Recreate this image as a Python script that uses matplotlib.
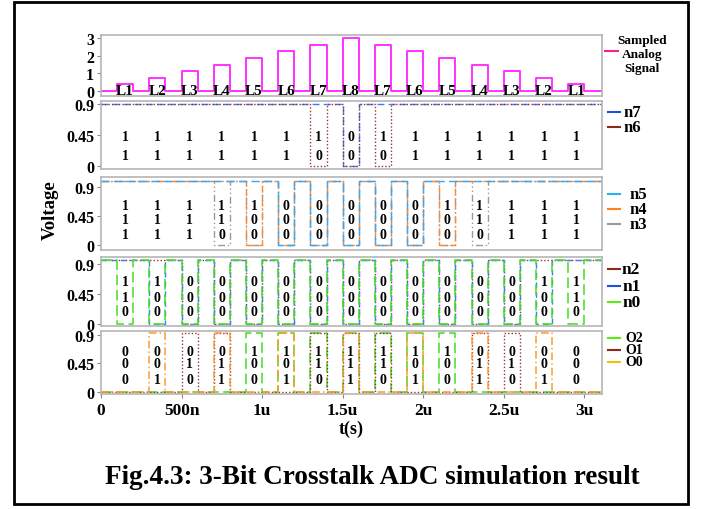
import matplotlib
matplotlib.use('Agg')
import matplotlib.pyplot as plt
from matplotlib.lines import Line2D
from matplotlib.patches import Rectangle

plt.rcParams['font.family'] = ['Liberation Serif', 'DejaVu Serif']
plt.rcParams['font.weight'] = 'bold'

# timing of the sampled pulses (in us)
pulse_start = [0.1, 0.3, 0.5, 0.7, 0.9, 1.1, 1.3, 1.5, 1.7, 1.9, 2.1, 2.3, 2.5, 2.7, 2.9]
pulse_width = 0.1
t_end = 3.11

level_names = ['L1', 'L2', 'L3', 'L4', 'L5', 'L6', 'L7', 'L8',
               'L7', 'L6', 'L5', 'L4', 'L3', 'L2', 'L1']
analog = [0.375, 0.75, 1.125, 1.5, 1.875, 2.25, 2.625, 3.0,
          2.625, 2.25, 1.875, 1.5, 1.125, 0.75, 0.375]

# comparator outputs during each pulse (thermometer code)
n7 = [1, 1, 1, 1, 1, 1, 1, 0, 1, 1, 1, 1, 1, 1, 1]
n6 = [1, 1, 1, 1, 1, 1, 0, 0, 0, 1, 1, 1, 1, 1, 1]
n5 = [1, 1, 1, 1, 1, 0, 0, 0, 0, 0, 1, 1, 1, 1, 1]
n4 = [1, 1, 1, 1, 0, 0, 0, 0, 0, 0, 0, 1, 1, 1, 1]
n3 = [1, 1, 1, 0, 0, 0, 0, 0, 0, 0, 0, 0, 1, 1, 1]
n2 = [1, 1, 0, 0, 0, 0, 0, 0, 0, 0, 0, 0, 0, 1, 1]
n1 = [1, 0, 0, 0, 0, 0, 0, 0, 0, 0, 0, 0, 0, 0, 1]
n0 = [0, 0, 0, 0, 0, 0, 0, 0, 0, 0, 0, 0, 0, 0, 0]
# encoder outputs
O2 = [0, 0, 0, 0, 1, 1, 1, 1, 1, 1, 1, 0, 0, 0, 0]
O1 = [0, 0, 1, 1, 0, 0, 1, 1, 1, 0, 0, 1, 1, 0, 0]
O0 = [0, 1, 0, 1, 0, 1, 0, 1, 0, 1, 0, 1, 0, 1, 0]

# high level of each digital panel (V)
vdd = [0.9, 1.0, 0.96, 0.93]

xtick_vals = [0, 0.5, 1, 1.5, 2, 2.5, 3]
xtick_labels = ['0', '500n', '1u', '1.5u', '2u', '2.5u', '3u']

W, H = 701, 510


def wave(vals, hi, rest):
    t = [0]
    y = [rest]
    for s, v in zip(pulse_start, vals):
        t += [s, s, s + pulse_width, s + pulse_width]
        y += [rest, v * hi, v * hi, rest]
    t.append(t_end)
    y.append(rest)
    return t, y


def panel(top, bottom, ylim, yticks, yticklabels):
    ax = fig.add_axes([101 / W, 1 - bottom / H, 501 / W, (bottom - top) / H])
    ax.set_xlim(0, t_end)
    ax.set_ylim(*ylim)
    for s in ax.spines.values():
        s.set_color('#b5b5b5')
        s.set_linewidth(1.2)
    ax.set_yticks(yticks)
    ax.set_yticklabels(yticklabels, fontsize=11.5, fontweight='bold')
    ax.tick_params(axis='y', color='#888888', length=3, width=0.8, pad=2)
    ax.set_xticks([])
    return ax


def bits(ax, rows, ys):
    for row, yy in zip(rows, ys):
        for s, b in zip(pulse_start, row):
            ax.text(s + pulse_width / 2, yy, str(b), ha='center', va='center',
                    fontsize=10, fontweight='bold')


def legend_entry(x0, y, color, label, tx, fs):
    fig.add_artist(Line2D([x0 / W, (x0 + 12) / W], [1 - y / H, 1 - y / H],
                          color=color, lw=1.5, transform=fig.transFigure))
    fig.text(tx / W, 1 - y / H, label, ha='left', va='center',
             fontsize=fs, fontweight='bold')


fig = plt.figure(figsize=(W / 100, H / 100), dpi=100)

# outer frame
fig.add_artist(Rectangle((14 / W, 5 / H), 674 / W, 502 / H, fill=False,
                         edgecolor='black', lw=2, transform=fig.transFigure))

# panel 1: sampled analog signal
ax1 = panel(36, 97, (-0.28, 3.17), [0, 1, 2, 3], ['0', '1', '2', '3'])
t, y = wave(analog, 1, 0)
ax1.plot(t, y, color='#ff33ff', lw=1.4)
for s, name in zip(pulse_start, level_names):
    ax1.text(s + pulse_width / 2, 0.02, name, ha='center', va='center',
             fontsize=11, fontweight='bold')

# panel 2: n7, n6
ax2 = panel(102, 170, (-0.044, 0.944), [0, 0.45, 0.9], ['0', '0.45', '0.9'])
t, y = wave(n7, vdd[0], vdd[0])
ax2.plot(t, y, color='#3d7dff', lw=1.0, ls=(0, (5, 3)))
t, y = wave(n6, vdd[0], vdd[0])
ax2.plot(t, y, color='#a03030', lw=1.0, ls=(0, (1, 1.5)))
bits(ax2, [n7, n6], [0.435, 0.145])

# panel 3: n5, n4, n3
ax3 = panel(178, 251, (-0.078, 1.055), [0, 0.45, 0.9], ['0', '0.45', '0.9'])
t, y = wave(n3, vdd[1], vdd[1])
ax3.plot(t, y, color='#999999', lw=1.0, ls=(0, (5, 2, 1, 2, 1, 2)))
t, y = wave(n4, vdd[1], vdd[1])
ax3.plot(t, y, color='#ff8a30', lw=1.0, ls=(0, (5, 2, 1, 2)))
t, y = wave(n5, vdd[1], vdd[1])
ax3.plot(t, y, color='#3aa8f5', lw=1.0, ls=(0, (6, 3)))
bits(ax3, [n5, n4, n3], [0.605, 0.40, 0.155])

# panel 4: n2, n1, n0
ax4 = panel(258, 327, (-0.03, 1.005), [0, 0.45, 0.9], ['0', '0.45', '0.9'])
t, y = wave(n2, vdd[2], vdd[2])
ax4.plot(t, y, color='#a03030', lw=1.0, ls=(0, (1, 1.5)))
t, y = wave(n1, vdd[2], vdd[2])
ax4.plot(t, y, color='#3d7dff', lw=1.0, ls=(0, (4, 3)))
t, y = wave(n0, vdd[2], vdd[2])
ax4.plot(t, y, color='#44dd22', lw=1.1, ls=(0, (7, 3)))
bits(ax4, [n2, n1, n0], [0.63, 0.405, 0.195])

# panel 5: O2, O1, O0
ax5 = panel(332, 395, (-0.032, 0.963), [0, 0.45, 0.9], ['0', '0.45', '0.9'])
t, y = wave(O2, vdd[3], 0)
ax5.plot(t, y, color='#44dd22', lw=1.1, ls=(0, (7, 3)))
t, y = wave(O1, vdd[3], 0)
ax5.plot(t, y, color='#a03030', lw=1.0, ls=(0, (1, 1.5)))
t, y = wave(O0, vdd[3], 0)
ax5.plot(t, y, color='#ff9a30', lw=1.1, ls=(0, (5, 2, 1, 2)))
bits(ax5, [O2, O1, O0], [0.647, 0.442, 0.19])
ax5.set_xticks(xtick_vals)
ax5.set_xticklabels(xtick_labels, fontsize=12.5, fontweight='bold')
ax5.tick_params(axis='x', color='#888888', length=3, width=0.8, pad=3)
ax5.set_xlabel('t(s)', fontsize=13, fontweight='bold', labelpad=1)

fig.text(50 / W, 1 - 210 / H, 'Voltage', rotation=90, ha='center', va='center',
         fontsize=13.5, fontweight='bold')

# legends
fig.add_artist(Line2D([605 / W, 618 / W], [1 - 52 / H, 1 - 52 / H],
                      color='#ff1f8f', lw=1.5, transform=fig.transFigure))
fig.text(642 / W, 1 - 55 / H, 'Sampled\nAnalog\nSignal', ha='center',
         va='center', fontsize=9.5, fontweight='bold', linespacing=1.25)
legend_entry(608, 113, '#1f4fe0', 'n7', 623, 12)
legend_entry(608, 128, '#8b2a1a', 'n6', 624, 12)
legend_entry(608, 195, '#22b5f0', 'n5', 630, 12)
legend_entry(608, 210, '#ff8020', 'n4', 630, 12)
legend_entry(608, 225, '#999999', 'n3', 630, 12)
legend_entry(608, 270, '#8b2a1a', 'n2', 622, 12.5)
legend_entry(608, 287, '#2050e0', 'n1', 623, 12.5)
legend_entry(608, 303, '#55ee11', 'n0', 623, 12.5)
legend_entry(608, 339, '#55ee11', 'O2', 625, 10)
legend_entry(608, 351, '#8b2a1a', 'O1', 625, 10)
legend_entry(608, 363, '#ffbb00', 'O0', 625, 10)

fig.text(372 / W, 1 - 478 / H, 'Fig.4.3: 3-Bit Crosstalk ADC simulation result',
         ha='center', va='center', fontsize=19.5, fontweight='bold')

fig.savefig('out.png', dpi=100)
